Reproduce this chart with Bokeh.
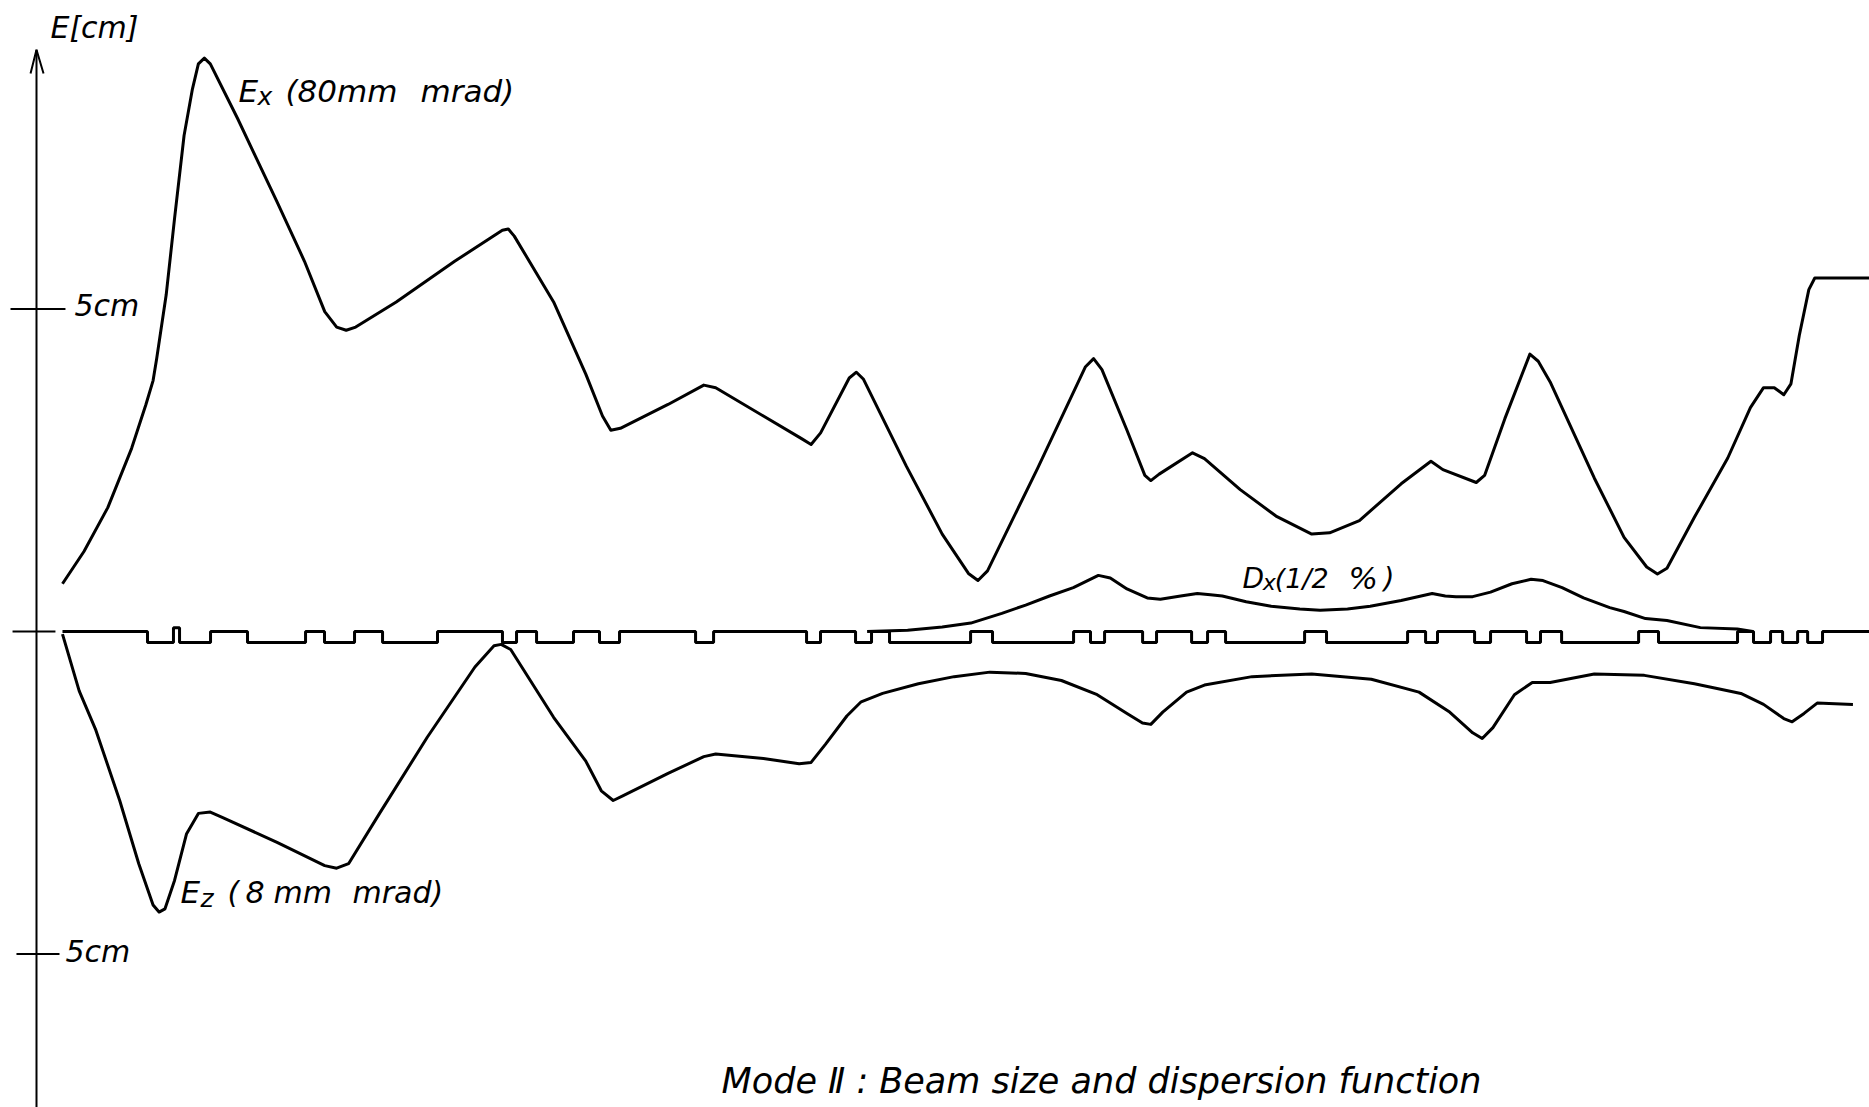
from bokeh.plotting import figure
from bokeh.models import Range1d
from bokeh.core.properties import value
from bokeh.embed import file_html
from bokeh.resources import INLINE

# ---- data: s (arbitrary length units along the section), E in cm ----
ex_s = [1.9, 3.7, 5.7, 7.7, 8.9, 9.5, 9.8, 10.6, 11.3, 12.1, 12.8, 13.3, 13.8, 14.3,
        16.6, 19.9, 22.2, 23.9, 24.9, 25.7, 26.5, 29.9, 34.8, 38.8, 39.3, 39.8,
        43.1, 45.8, 47.2, 47.9, 48.7, 52.7, 55.7, 56.7, 60.7, 63.9, 64.7, 65.5,
        67.9, 68.5, 69.1, 72.7, 75.7, 77.9, 78.7, 79.5, 83.7, 87.7, 88.4, 89.1,
        91.2, 92.7, 93.2, 93.9, 96.7, 97.7, 100.7, 103.7, 106.7, 108.2, 110.7,
        114.2, 116.7, 117.7, 120.5, 121.2, 122.9, 125.0, 125.7, 126.7, 130.4,
        132.9, 134.8, 135.7, 136.5, 138.8, 141.6, 143.5, 144.6, 145.5, 146.3,
        146.9, 147.6, 148.4, 148.9, 153.5]
ex_e = [0.74, 1.24, 1.92, 2.84, 3.52, 3.89, 4.23, 5.22, 6.40, 7.69, 8.41, 8.80, 8.89, 8.80,
        7.95, 6.66, 5.74, 4.96, 4.72, 4.67, 4.72, 5.11, 5.74, 6.22, 6.24, 6.13,
        5.11, 3.99, 3.34, 3.12, 3.15, 3.52, 3.82, 3.78, 3.34, 2.99, 2.90, 3.08,
        3.93, 4.02, 3.91, 2.56, 1.51, 0.90, 0.79, 0.94, 2.53, 4.10, 4.23, 4.06,
        3.12, 2.42, 2.34, 2.44, 2.77, 2.68, 2.20, 1.79, 1.51, 1.53, 1.72,
        2.29, 2.64, 2.51, 2.31, 2.42, 3.30, 4.30, 4.19, 3.87, 2.38,
        1.46, 1.00, 0.89, 0.98, 1.77, 2.69, 3.47, 3.78, 3.78, 3.67,
        3.84, 4.59, 5.30, 5.48, 5.48]

ez_s = [1.9, 3.3, 4.7, 6.7, 8.3, 9.5, 10.0, 10.5, 11.3, 12.3, 13.3, 14.3, 15.3,
        19.9, 23.9, 24.9, 25.9, 28.5, 32.5, 36.5, 38.1, 38.7, 39.5, 43.1, 45.8,
        47.1, 48.1, 48.9, 52.7, 55.7, 56.7, 60.7, 63.7, 64.7, 65.9, 67.7, 68.9,
        70.7, 73.7, 76.7, 79.7, 82.7, 85.7, 88.7, 91.2, 92.5, 93.2, 94.2, 96.2,
        97.7, 101.7, 106.7, 111.7, 115.7, 118.2, 120.2, 121.0, 121.9, 123.7,
        125.2, 126.7, 130.4, 134.6, 138.8, 142.7, 144.6, 146.3, 147.0, 148.0,
        149.1, 152.1]
ez_e = [-0.04, -0.92, -1.53, -2.62, -3.60, -4.24, -4.35, -4.30, -3.86, -3.14, -2.82, -2.80, -2.88,
        -3.27, -3.63, -3.67, -3.60, -2.82, -1.64, -0.55, -0.22, -0.20, -0.28, -1.33, -2.01,
        -2.47, -2.62, -2.55, -2.20, -1.94, -1.90, -1.97, -2.05, -2.03, -1.75, -1.31, -1.09,
        -0.96, -0.81, -0.70, -0.63, -0.65, -0.76, -0.98, -1.27, -1.42, -1.44, -1.25, -0.94,
        -0.83, -0.70, -0.66, -0.74, -0.94, -1.24, -1.57, -1.66, -1.49, -0.98,
        -0.79, -0.79, -0.66, -0.68, -0.81, -0.96, -1.13, -1.35, -1.40, -1.27,
        -1.11, -1.13]

dx_s = [69.4, 72.8, 75.7, 78.1, 80.7, 82.7, 84.7, 86.7, 87.9, 88.8, 89.8, 91.2, 92.9,
        94.0, 95.7, 97.1, 98.2, 99.2, 101.2, 103.3, 105.7, 107.4, 109.7, 111.6,
        114.2, 116.8, 117.9, 118.8, 120.2, 121.7, 123.5, 125.1, 126.1, 127.7,
        129.5, 131.7, 132.9, 134.7, 136.5, 139.3, 142.4, 143.7]
dx_e = [0.0, 0.02, 0.07, 0.13, 0.28, 0.41, 0.55, 0.68, 0.79, 0.87, 0.83, 0.66, 0.52,
        0.50, 0.55, 0.59, 0.57, 0.55, 0.46, 0.39, 0.35, 0.33, 0.35, 0.39,
        0.48, 0.59, 0.55, 0.54, 0.54, 0.61, 0.74, 0.81, 0.79, 0.68,
        0.52, 0.37, 0.31, 0.20, 0.17, 0.06, 0.04, 0.0]

# magnet lattice strip: segment edges and level of each segment
lattice_edges = [1.90, 9.03, 11.21, 11.72, 14.32, 17.42, 22.29, 23.88, 26.40, 28.75,
                 33.36, 38.81, 39.99, 41.67, 44.77, 46.95, 48.63, 55.01, 56.52, 64.32,
                 65.49, 68.43, 69.77, 71.28, 78.08, 79.92, 86.72, 88.14, 89.32, 92.51,
                 93.68, 96.62, 97.96, 99.47, 106.10, 107.94, 114.74, 116.25, 117.25, 120.36,
                 121.70, 124.72, 125.89, 127.66, 134.12, 135.79, 142.42, 143.76, 145.19, 146.20,
                 147.46, 148.30, 149.55, 153.5]
lattice_levels = [0.0, -0.17, 0.06, -0.17,
                  0.0, -0.17, 0.0, -0.17, 0.0, -0.17, 0.0, -0.17, 0.0, -0.17,
                  0.0, -0.17, 0.0, -0.17, 0.0, -0.17, 0.0, -0.17, 0.0, -0.17,
                  0.0, -0.17, 0.0, -0.17, 0.0, -0.17, 0.0, -0.17, 0.0, -0.17,
                  0.0, -0.17, 0.0, -0.17, 0.0, -0.17, 0.0, -0.17, 0.0, -0.17,
                  0.0, -0.17, 0.0, -0.17, 0.0, -0.17, 0.0, -0.17, 0.0]

tick_values = [5, 0, -5]
tick_labels = ["5cm", "5cm"]

FONT = value("DejaVu Sans")
TXT_SHIFT = -10  # screen px

p = figure(width=1869, height=1107,
           x_range=Range1d(-3.300, 153.49), y_range=Range1d(-7.380, 9.783),
           output_backend="svg", toolbar_location=None,
           x_axis_location=None, y_axis_location=None, min_border=0)
p.grid.visible = False
p.outline_line_color = None
p.background_fill_color = "white"
p.border_fill_color = "white"

main_kw = dict(text_font=FONT, text_font_style="italic", text_baseline="alphabetic",
               text_color="black", y_offset=TXT_SHIFT)

# hand-drawn style vertical axis with open arrow head
p.line([-0.28, -0.28], [-8.0, 9.02], line_width=2, color="black")
p.line([-0.78, -0.28, 0.31], [8.65, 9.02, 8.65], line_width=2, color="black")
p.segment(x0=[-2.46, -2.29, -1.96], y0=tick_values, x1=[2.15, 1.31, 1.65], y1=tick_values,
          line_width=2, color="black")
p.text(x=[2.91], y=[tick_values[0]], text=[tick_labels[0]], y_offset=-3,
       text_font=FONT, text_font_style="italic", text_font_size="30px",
       text_baseline="alphabetic", text_color="black")
p.text(x=[2.15], y=[tick_values[2]], text=[tick_labels[1]], y_offset=-2,
       text_font=FONT, text_font_style="italic", text_font_size="30px",
       text_baseline="alphabetic", text_color="black")
p.text(x=[0.89], y=[9.21], text=["E[cm]"], text_font_size="30px", **main_kw)

# curves
p.line(ex_s, ex_e, line_width=3, color="black", line_join="round")
p.line(ez_s, ez_e, line_width=3, color="black", line_join="round")
p.line(dx_s, dx_e, line_width=3, color="black", line_join="round")
p.step(lattice_edges, lattice_levels + [lattice_levels[-1]], mode="after",
       line_width=3, color="black")

# curve labels (main letter, subscript, rest)
p.text(x=[16.67, 11.80], y=[8.23, -4.20], text=["E", "E"], text_font_size="31px", **main_kw)
p.text(x=[18.26, 13.48], y=[8.14, -4.29], text=["x", "z"], text_font_size="25px", **main_kw)
p.text(x=[20.61, 31.93], y=[8.23, 8.23], text=["(80mm", "mrad)"],
       text_font_size="31px", **main_kw)
p.text(x=[15.74, 17.25, 19.60, 26.23], y=[-4.20] * 4, text=["(", "8", "mm", "mrad)"],
       text_font_size="30px", **main_kw)
p.text(x=[100.89], y=[0.667], text=["D"], text_font_size="28px", **main_kw)
p.text(x=[102.60], y=[0.605], text=["x"], text_font_size="22px", **main_kw)
p.text(x=[103.60], y=[0.667], text=["(1/2"], text_font_size="27px", **main_kw)
p.text(x=[109.79], y=[0.667], text=["%"], text_font_size="31px", **main_kw)
p.text(x=[112.72], y=[0.667], text=[")"], text_font_size="28px", **main_kw)

p.text(x=[57.19], y=[-7.12], text=["Mode \u2161 : Beam size and dispersion function"],
       text_font_size="35px", **main_kw)

open("out.html", "w").write(file_html(p, INLINE))
